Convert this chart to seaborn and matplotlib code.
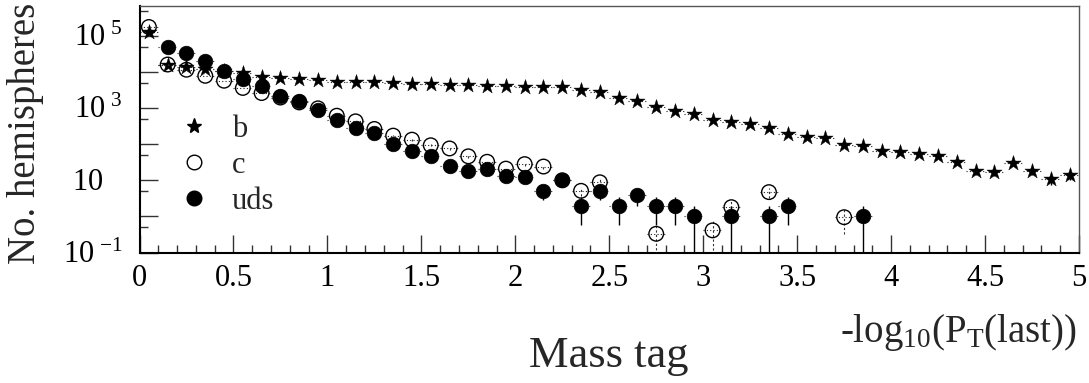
import numpy as np
import pandas as pd
import matplotlib
matplotlib.use("Agg")
import matplotlib.pyplot as plt
from matplotlib.lines import Line2D
from matplotlib.ticker import FixedLocator, FuncFormatter, NullFormatter
from matplotlib.transforms import ScaledTranslation
import seaborn as sns

nan = np.nan

# 50 bins of -log10(P_T(last)) between 0 and 5
bin_edges = np.linspace(0.0, 5.0, 51)
bin_centers = 0.5 * (bin_edges[:-1] + bin_edges[1:])

# hemisphere counts per bin
b_counts = [1.3e5, 1.57e4, 1.4e4, 1.23e4, 1.07e4, 9.3e3, 7.4e3, 6.7e3, 6.3e3, 6.0e3,
            5.4e3, 5.2e3, 5.1e3, 4.9e3, 4.7e3, 4.7e3, 4.4e3, 4.4e3, 4.1e3, 3.95e3,
            3.9e3, 3.7e3, 3.7e3, 3.2e3, 2.7e3, 1.95e3, 1.52e3, 1.1e3, 805, 695,
            470, 400, 368, 280, 195, 158, 148, 97, 87, 63,
            59, 55, 48, 31.5, 17.8, 17, 30, 18.6, 10.9, 13.8]

c_counts = [1.75e5, 1.6e4, 1.15e4, 7.8e3, 5.7e3, 3.6e3, 2.6e3, 1.95e3, 1.43e3, 980,
            612, 428, 263, 172, 133, 93, 76, 46, 32.5, 21,
            28, 24, 10, 5.1, 8.8, nan, nan, 0.33, nan, nan,
            0.41, 1.8, nan, 4.7, nan, nan, nan, 0.95, nan, nan,
            nan, nan, nan, nan, nan, nan, nan, nan, nan, nan]

uds_counts = [nan, 5.0e4, 3.3e4, 1.95e4, 1.07e4, 6.3e3, 4.1e3, 2.2e3, 1.52e3, 900,
              475, 280, 205, 101, 63, 46, 25.5, 18, 21, 13,
              12, 5, 10, 2, 5, 2, 4, 2, 2, 1,
              nan, 1, nan, 1, 2, nan, nan, nan, 1, nan,
              nan, nan, nan, nan, nan, nan, nan, nan, nan, nan]

c_weight = 0.4  # per-event weight of the charm sample

series_labels = ["b", "c", "uds"]
x_tick_values = [0, 0.5, 1, 1.5, 2, 2.5, 3, 3.5, 4, 4.5, 5]
y_label_decades = {1e-1: "-1", 1e1: None, 1e3: "3", 1e5: "5"}

sns.set_theme(style="ticks")
plt.rcParams["font.family"] = ["Liberation Serif", "DejaVu Serif"]
plt.rcParams["mathtext.fontset"] = "custom"
plt.rcParams["mathtext.rm"] = "Liberation Serif"
plt.rcParams["mathtext.it"] = "Liberation Serif:italic"
plt.rcParams["mathtext.bf"] = "Liberation Serif:bold"

fig = plt.figure(figsize=(10.89, 3.83), dpi=100)
ax = fig.add_axes([0.1281, 0.3407, 0.8627, 0.6444])

df = pd.DataFrame({"x": bin_centers, "b": b_counts, "c": c_counts, "uds": uds_counts})


def poisson_err(vals, weight=1.0):
    v = np.asarray(vals, dtype=float)
    err = np.sqrt(v * weight)
    lower = np.minimum(err, v - 1e-4)
    return np.vstack([lower, err])


dot_style = (0, (1.0, 2.0))
x_half = 0.05

# b: stars, drawn first
ax.errorbar(df["x"], df["b"], xerr=x_half, fmt="none", ecolor="#222222",
            elinewidth=0.8, zorder=2)[2][0].set_linestyle(dot_style)
ax.errorbar(df["x"], df["b"], yerr=poisson_err(df["b"]), fmt="none",
            ecolor="black", elinewidth=1.0, zorder=2)
sns.scatterplot(data=df, x="x", y="b", marker="*", s=11.5 ** 2, color="black",
                edgecolor="black", linewidth=0.3, ax=ax, zorder=3, legend=False)

# c: open circles
ax.errorbar(df["x"], df["c"], xerr=x_half, fmt="none", ecolor="#222222",
            elinewidth=0.8, zorder=4)[2][0].set_linestyle(dot_style)
ax.errorbar(df["x"], df["c"], yerr=poisson_err(df["c"], c_weight), fmt="none",
            ecolor="#333333", elinewidth=0.8, zorder=4)[2][0].set_linestyle((0, (2.0, 2.0)))
sns.scatterplot(data=df, x="x", y="c", marker="o", s=10.5 ** 2, facecolor="none",
                edgecolor="black", linewidth=1.0, ax=ax, zorder=5, legend=False)

# uds: filled circles, drawn last
ax.errorbar(df["x"], df["uds"], xerr=x_half, fmt="none", ecolor="#222222",
            elinewidth=0.8, zorder=6)[2][0].set_linestyle(dot_style)
ax.errorbar(df["x"], df["uds"], yerr=poisson_err(df["uds"]), fmt="none",
            ecolor="black", elinewidth=1.0, zorder=6)
sns.scatterplot(data=df, x="x", y="uds", marker="o", s=10.5 ** 2, color="black",
                edgecolor="black", linewidth=0.5, ax=ax, zorder=7, legend=False)

ax.set_yscale("log")
ax.set_xlim(0, 5)
ax.set_ylim(0.1, 6.8e5)

# x ticks
ax.xaxis.set_major_locator(FixedLocator(x_tick_values))
ax.xaxis.set_minor_locator(FixedLocator([round(0.1 * i, 1) for i in range(51) if i % 5]))
ax.xaxis.set_major_formatter(FuncFormatter(lambda v, p: f"{v:g}"))

# y ticks: every decade, labels on odd powers
decades = [1e-1, 1e0, 1e1, 1e2, 1e3, 1e4, 1e5]
halves = [0.5, 5, 50, 500, 5e3, 5e4, 5e5]
ax.yaxis.set_major_locator(FixedLocator(decades))
ax.yaxis.set_minor_locator(FixedLocator(halves))
ax.yaxis.set_minor_formatter(NullFormatter())


def ylab(v, pos):
    for key, exp in y_label_decades.items():
        if abs(np.log10(v) - np.log10(key)) < 1e-6:
            if exp is None:
                return r"$\mathregular{10}$"
            return r"$\mathregular{10\;{}^{%s}}$" % exp
    return ""


ax.yaxis.set_major_formatter(FuncFormatter(ylab))

ax.tick_params(axis="both", which="major", direction="in", length=13, width=1.0,
               color="#333333", labelsize=22, labelcolor="black")
ax.tick_params(axis="both", which="minor", direction="in", length=6, width=1.0,
               color="#333333")
ax.tick_params(axis="x", which="major", pad=8)
ax.tick_params(axis="y", which="major", pad=12)
ax.tick_params(top=False, right=False, which="both")

# y labels sit on their baseline, with the "10" centred on the tick
for tick, val in zip(ax.yaxis.get_major_ticks(), decades):
    lab = tick.label1
    lab.set_verticalalignment("baseline")
    dx = -20 / 100 if val == 1e1 else 0.0
    lab.set_transform(lab.get_transform() + ScaledTranslation(dx, -10 / 100, fig.dpi_scale_trans))

for side in ["left", "bottom"]:
    ax.spines[side].set_color("black")
    ax.spines[side].set_linewidth(1.5)
for side in ["top", "right"]:
    ax.spines[side].set_color("#555555")
    ax.spines[side].set_linewidth(1.0)
ax.grid(False)

ax.set_ylabel("No. hemispheres", fontsize=28, va="bottom")
ax.yaxis.set_label_coords(-0.102, 0.482)

ax.set_xlabel(r"-log$_{\mathregular{10}}$(P$_{\mathregular{T}}$(last))", fontsize=28,
              ha="right", va="baseline")
ax.xaxis.set_label_coords(0.998, -0.363)
fig.text(0.559, 0.042, "Mass tag", fontsize=32, ha="center", va="baseline")

handles = [
    Line2D([], [], linestyle="none", marker="*", markersize=11, color="black"),
    Line2D([], [], linestyle="none", marker="o", markersize=10.5, markerfacecolor="none",
           markeredgecolor="black", markeredgewidth=1.0),
    Line2D([], [], linestyle="none", marker="o", markersize=10.5, color="black"),
]
ax.legend(handles, series_labels, loc="upper left", bbox_to_anchor=(0.0417, 0.559),
          frameon=False, fontsize=22, handlelength=1.0, handletextpad=0.74,
          labelspacing=0.23, borderpad=0, borderaxespad=0)

fig.savefig("out.png", dpi=100)
